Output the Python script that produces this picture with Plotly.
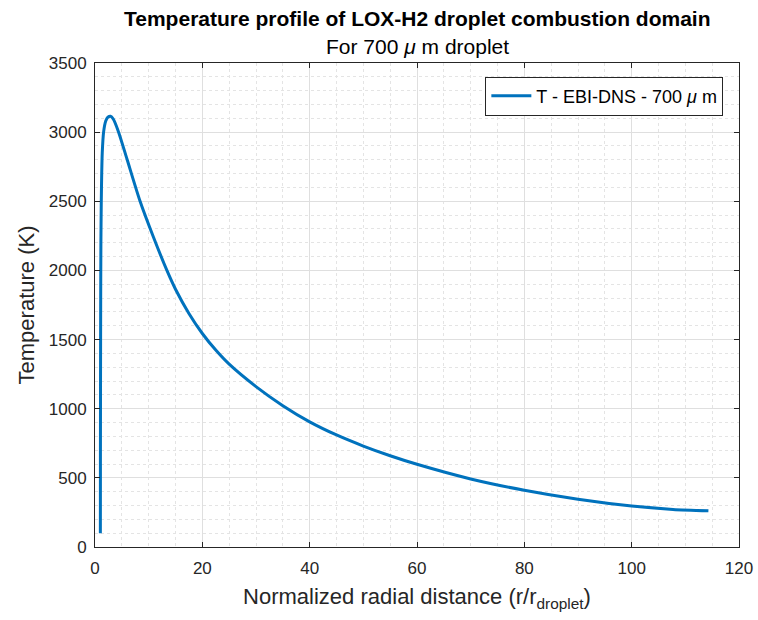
import plotly.graph_objects as go

# Data
r_norm = [1.0, 1.01, 1.03, 1.06, 1.1, 1.17, 1.25, 1.35, 1.6, 2.0, 2.4, 2.9, 3.4,
          4.4, 6.0, 8.4, 10.9, 13.4, 15.0, 17.5, 20.0, 22.5, 25.0, 30.0, 35.0,
          40.0, 45.0, 50.0, 55.0, 60.0, 70.0, 80.0, 90.0, 100.0, 107.7, 114.3]
temp_K = [100, 600, 1200, 1800, 2200, 2500, 2700, 2850, 3000, 3080, 3108, 3115, 3095,
          3000, 2800, 2500, 2240, 2000, 1864, 1689, 1544, 1424, 1322, 1160, 1022,
          905, 810, 730, 660, 598, 492, 410, 345, 296, 272, 262]

x_ticks = [0, 20, 40, 60, 80, 100, 120]
y_ticks = [0, 500, 1000, 1500, 2000, 2500, 3000, 3500]

title_text = "Temperature profile of LOX-H2 droplet combustion domain"
subtitle_text = "For 700 <i>μ</i> m droplet"
series_name = "T - EBI-DNS - 700 <i>μ</i> m"

FONT = "Liberation Sans, Arial, Helvetica, sans-serif"
AX = "#262626"

fig = go.Figure()
fig.add_trace(go.Scatter(x=r_norm, y=temp_K, mode="lines", name=series_name,
                         line=dict(color="#0072BD", width=3, shape="spline", smoothing=0.7)))

axis_common = dict(
    showline=True, linecolor=AX, linewidth=1, mirror="ticks",
    ticks="inside", ticklen=5, tickcolor=AX, tickwidth=1,
    showgrid=True, gridcolor="#dfdfdf", gridwidth=1,
    zeroline=False,
    tickfont=dict(family=FONT, size=17, color=AX),
)

fig.update_xaxes(range=[0, 120], tickvals=x_ticks, ticktext=[str(v) for v in x_ticks],
                 ticklabelstandoff=6,
                 minor=dict(dtick=5, showgrid=True, gridcolor="#e4e4e4", griddash="dot", gridwidth=1),
                 title=dict(text="Normalized radial distance (r/r<sub>droplet</sub>)",
                            font=dict(family=FONT, size=22, color=AX), standoff=11),
                 **axis_common)
fig.update_yaxes(range=[0, 3500], tickvals=y_ticks, ticktext=[str(v) for v in y_ticks],
                 ticklabelstandoff=4,
                 minor=dict(dtick=100, showgrid=True, gridcolor="#e4e4e4", griddash="dot", gridwidth=1),
                 title=dict(text="Temperature (K)", font=dict(family=FONT, size=22, color=AX), standoff=8),
                 **axis_common)

fig.update_layout(
    width=758, height=620,
    margin=dict(l=95, r=19, t=63, b=73, autoexpand=False),
    paper_bgcolor="white", plot_bgcolor="white",
    font=dict(family=FONT, color=AX),
    showlegend=True,
    legend=dict(x=0.9757, y=0.972, xanchor="right", yanchor="top",
                bgcolor="white", bordercolor=AX, borderwidth=1,
                font=dict(family=FONT, size=18, color="black"),
                itemwidth=40),
    annotations=[
        dict(text="<b>" + title_text + "</b>", xref="paper", yref="paper",
             x=0.5, y=1.092, xanchor="center", yanchor="middle", showarrow=False,
             font=dict(family=FONT, size=21, color="black")),
        dict(text=subtitle_text, xref="paper", yref="paper",
             x=0.5, y=1.034, xanchor="center", yanchor="middle", showarrow=False,
             font=dict(family=FONT, size=21, color="black")),
    ],
)

fig.write_html("out.html")
